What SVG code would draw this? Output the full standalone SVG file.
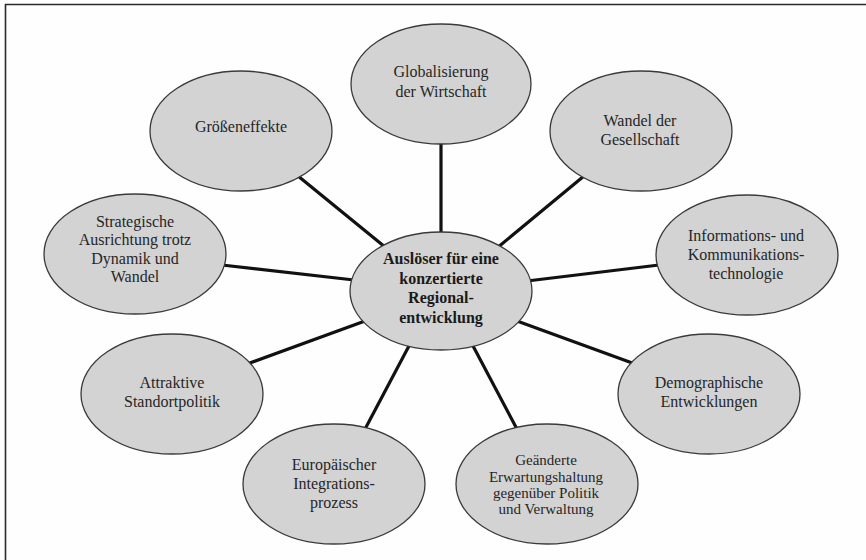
<svg xmlns="http://www.w3.org/2000/svg" width="866" height="560" viewBox="0 0 866 560">
<style>
.bg{fill:#fefefe}
.frame{stroke:#2a2a2a;stroke-width:1.6;fill:none}
.node ellipse{fill:#d3d3d3;stroke:#3a3a3a;stroke-width:1.3}
.node text{font-family:"Liberation Serif","Times New Roman",serif;font-size:16px;fill:#262626;text-anchor:middle}
.node text.sm{font-size:15px}
#center text{font-weight:bold;fill:#1a1a1a}
#connectors line{stroke:#111;stroke-width:3.2;stroke-linecap:butt}
</style>
<rect class="bg" x="0" y="0" width="866" height="560"/>
<path class="frame" d="M5.5,560 V4.5 H866"/>
<g id="connectors">
<line x1="441" y1="140" x2="441" y2="236"/>
<line x1="584" y1="176" x2="497" y2="248"/>
<line x1="298" y1="176" x2="385" y2="247"/>
<line x1="222" y1="265" x2="354" y2="280"/>
<line x1="659" y1="265" x2="527" y2="281"/>
<line x1="247" y1="364" x2="365" y2="321"/>
<line x1="635" y1="364" x2="517" y2="321"/>
<line x1="364" y1="431" x2="410" y2="344"/>
<line x1="518" y1="431" x2="472" y2="344"/>
</g>
<g id="globalisierung" class="node">
<ellipse cx="441" cy="84" rx="90" ry="60"/>
<text x="441" y="77">Globalisierung</text>
<text x="441" y="97">der Wirtschaft</text>
</g>
<g id="wandel" class="node">
<ellipse cx="641" cy="131" rx="91" ry="60"/>
<text x="640" y="126">Wandel der</text>
<text x="640" y="145">Gesellschaft</text>
</g>
<g id="groesseneffekte" class="node">
<ellipse cx="241" cy="131" rx="91" ry="60"/>
<text x="241" y="132">Größeneffekte</text>
</g>
<g id="strategische" class="node">
<ellipse cx="135" cy="254" rx="91" ry="60"/>
<text x="135" y="227">Strategische</text>
<text x="135" y="245">Ausrichtung trotz</text>
<text x="135" y="264">Dynamik und</text>
<text x="135" y="282">Wandel</text>
</g>
<g id="informations" class="node">
<ellipse cx="747" cy="255" rx="91" ry="60"/>
<text x="746" y="241">Informations- und</text>
<text x="746" y="260">Kommunikations-</text>
<text x="746" y="279">technologie</text>
</g>
<g id="attraktive" class="node">
<ellipse cx="172" cy="394" rx="91" ry="60"/>
<text x="172" y="388">Attraktive</text>
<text x="172" y="407">Standortpolitik</text>
</g>
<g id="demographische" class="node">
<ellipse cx="709" cy="394" rx="91" ry="60"/>
<text x="709" y="388">Demographische</text>
<text x="709" y="407">Entwicklungen</text>
</g>
<g id="europaeischer" class="node">
<ellipse cx="334" cy="484" rx="91" ry="60"/>
<text x="334" y="470">Europäischer</text>
<text x="334" y="489">Integrations-</text>
<text x="334" y="508">prozess</text>
</g>
<g id="geaenderte" class="node">
<ellipse cx="547" cy="484" rx="91" ry="60"/>
<text class="sm" x="546" y="465">Geänderte</text>
<text class="sm" x="546" y="482">Erwartungshaltung</text>
<text class="sm" x="546" y="498">gegenüber Politik</text>
<text class="sm" x="546" y="514">und Verwaltung</text>
</g>
<g id="center" class="node">
<ellipse cx="441" cy="291" rx="91" ry="59"/>
<text x="441" y="264">Auslöser für eine</text>
<text x="441" y="284">konzertierte</text>
<text x="441" y="303">Regional-</text>
<text x="441" y="323">entwicklung</text>
</g>
</svg>
